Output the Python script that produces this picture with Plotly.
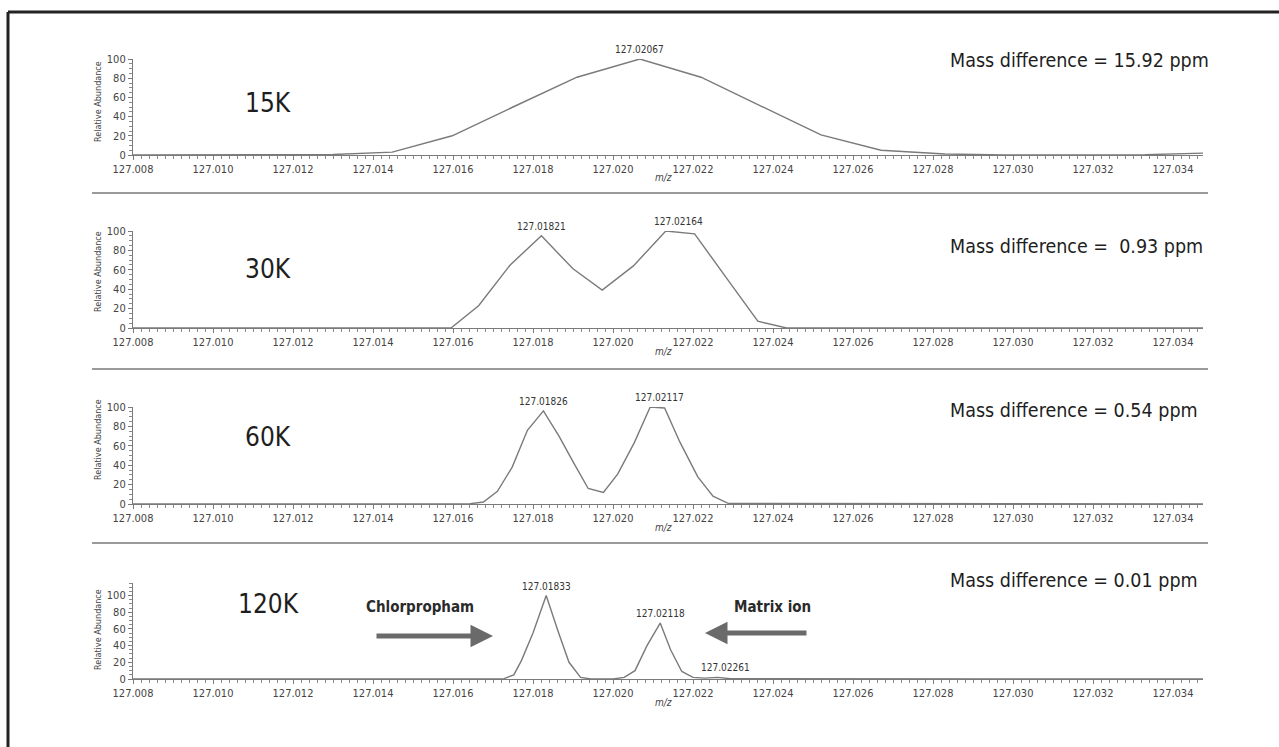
import plotly.graph_objects as go

W, H = 1279, 747

# ---- spectra (m/z, relative abundance) ----
mz_15k = [127.0080, 127.0130, 127.01448, 127.01598, 127.0175, 127.0191, 127.02067,
          127.0222, 127.0237, 127.0252, 127.0267, 127.0283, 127.0298, 127.0333, 127.0348]
ab_15k = [0, 0.5, 3, 20, 50, 81, 100, 81, 51, 21, 5, 1, 0, 0.3, 2]

mz_30k = [127.0080, 127.01595, 127.01664, 127.01743, 127.01821, 127.01900, 127.01973,
          127.02051, 127.02132, 127.02204, 127.02283, 127.02362, 127.02434, 127.0348]
ab_30k = [0, 0, 23, 65, 95, 61, 39, 64, 100, 97, 52, 7, 0, 0]

mz_60k = [127.0080, 127.01610, 127.01643, 127.01676, 127.01711, 127.01748, 127.01786,
          127.01826, 127.01865, 127.01901, 127.01938, 127.01976, 127.02012, 127.02053,
          127.02093, 127.02129, 127.02167, 127.02212, 127.02250, 127.02289, 127.0348]
ab_60k = [0, 0, 0.3, 2, 13, 38, 76, 96, 70, 43, 16, 12, 31, 63, 100, 99, 64, 28, 8, 0.5, 0]

mz_120k = [127.0080, 127.01700, 127.01728, 127.01752, 127.01771, 127.01800, 127.01833,
           127.01862, 127.01890, 127.01919, 127.01945, 127.02000, 127.02028, 127.02055,
           127.02085, 127.02118, 127.02144, 127.02172, 127.02200, 127.02230, 127.02261,
           127.02294, 127.0348]
ab_120k = [0, 0, 0.5, 5, 22, 55, 100, 58, 20, 2, 0, 0, 2, 10, 40, 67, 35, 9, 2, 1, 2, 0.3, 0]

# ---- labelled peaks ----
peaks_15k = [127.02067]
peak_ab_15k = [100]
peaks_30k = [127.01821, 127.02164]
peak_ab_30k = [95, 100]
peaks_60k = [127.01826, 127.02117]
peak_ab_60k = [96, 100]
peaks_120k = [127.01833, 127.02118, 127.02261]
peak_ab_120k = [100, 67, 2]

resolutions = ["15K", "30K", "60K", "120K"]
mass_diffs = ["Mass difference = 15.92 ppm", "Mass difference =  0.93 ppm",
              "Mass difference = 0.54 ppm", "Mass difference = 0.01 ppm"]
y_max = [100, 100, 100, 115]

NARROW = "Liberation Sans Narrow, Arial Narrow, DejaVu Sans Condensed, sans-serif"
LINE = "#7a7a7a"
TEXT = "#333333"


def px(x):
    return x / W


def py(y):
    return 1 - y / H


# pixel rows of each panel: (top of y-axis, baseline)
rows = [(59, 155), (231, 328), (407, 504), (583, 679)]
x_left, x_right = 133, 1203
mz_lo = 127.008
mz_hi = mz_lo + (x_right - x_left) / 80 * 0.002

# text rows inside each panel
ylabel_mid = [102, 272, 440, 630]
res_row = [103, 269, 437, 604]
md_row = [60, 246, 410, 580]

spectra = [(mz_15k, ab_15k), (mz_30k, ab_30k), (mz_60k, ab_60k), (mz_120k, ab_120k)]
peaks = [(peaks_15k, peak_ab_15k), (peaks_30k, peak_ab_30k),
         (peaks_60k, peak_ab_60k), (peaks_120k, peak_ab_120k)]

fig = go.Figure()
annotations = []
layout = {}


def note(x, y, text, size, color=TEXT, **kw):
    d = dict(x=px(x), y=py(y), xref="paper", yref="paper", text=text,
             showarrow=False, xanchor="center", yanchor="middle",
             font=dict(family=NARROW, size=size, color=color))
    d.update(kw)
    annotations.append(d)


for i, ((mz, ab), (top, base)) in enumerate(zip(spectra, rows)):
    n = "" if i == 0 else str(i + 1)
    fig.add_trace(go.Scatter(
        x=mz, y=ab, mode="lines", xaxis="x" + n, yaxis="y" + n,
        line=dict(color=LINE, width=1.4), showlegend=False, hoverinfo="skip"))

    layout["xaxis" + n] = dict(
        domain=[px(x_left), px(x_right)], range=[mz_lo, mz_hi], anchor="y" + n,
        showline=True, linecolor=LINE, linewidth=1.2, ticks="outside", ticklen=4,
        tickcolor=LINE, tick0=127.008, dtick=0.002, tickformat=".3f",
        tickfont=dict(family=NARROW, size=11, color="#444"),
        minor=dict(ticks="outside", ticklen=3, dtick=0.0002, tickcolor="#8a8a8a"),
        showgrid=False, zeroline=False, fixedrange=True, automargin=False)
    layout["yaxis" + n] = dict(
        domain=[py(base), py(top)],
        range=[0, y_max[i]], anchor="x" + n,
        showline=True, linecolor=LINE, linewidth=1.2, ticks="outside", ticklen=4,
        tickcolor=LINE, tick0=0, dtick=20,
        tickfont=dict(family=NARROW, size=11, color="#444"),
        minor=dict(ticks="outside", ticklen=3, dtick=5, tickcolor="#8a8a8a"),
        showgrid=False, zeroline=False, fixedrange=True, automargin=False)

    # axis titles
    note(98, ylabel_mid[i], "Relative Abundance", 9, "#444", textangle=-90)
    note(663, base + 23, "<i>m/z</i>", 10, "#444")
    # resolution label
    note(268, res_row[i], resolutions[i], 26, "#1e1e1e")
    # mass difference
    note(948, md_row[i], mass_diffs[i].replace("  ", "&nbsp; "), 19.5,
         "#1e1e1e", xanchor="left")
    # peak labels
    for pm, pa in zip(*peaks[i]):
        annotations.append(dict(
            x=pm, y=pa, xref="x" + n, yref="y" + n, xanchor="center",
            yanchor="bottom", yshift=2, xshift=8 if pa < 10 else 0,
            text=f"{pm:.5f}", showarrow=False,
            font=dict(family=NARROW, size=10, color=TEXT)))

# compound labels and arrows in the 120K panel
note(420, 607, "<b>Chlorpropham</b>", 15, "#2a2a2a")
note(772, 607, "<b>Matrix ion</b>", 15, "#2a2a2a")
annotations.append(dict(x=px(493), y=py(636), ax=375 - 493, ay=0,
                        xref="paper", yref="paper",
                        text="", showarrow=True, arrowhead=2, arrowsize=0.9,
                        arrowwidth=5, arrowcolor="#6a6a6a"))
annotations.append(dict(x=px(705), y=py(633), ax=808 - 705, ay=0,
                        xref="paper", yref="paper",
                        text="", showarrow=True, arrowhead=2, arrowsize=0.9,
                        arrowwidth=5, arrowcolor="#6a6a6a"))

shapes = []
# separators between panels
for ys in (193, 369, 543):
    shapes.append(dict(type="line", xref="paper", yref="paper",
                       x0=px(92), x1=px(1208), y0=py(ys), y1=py(ys),
                       line=dict(color="#9a9a9a", width=2)))
# outer frame (top and left edges)
shapes.append(dict(type="line", xref="paper", yref="paper",
                   x0=px(8), x1=1.0, y0=py(12), y1=py(12),
                   line=dict(color="#222", width=3)))
shapes.append(dict(type="line", xref="paper", yref="paper",
                   x0=px(8), x1=px(8), y0=py(12), y1=0,
                   line=dict(color="#222", width=3)))

fig.update_layout(
    width=W, height=H, autosize=False, margin=dict(l=0, r=0, t=0, b=0, pad=0),
    paper_bgcolor="white", plot_bgcolor="white",
    annotations=annotations, shapes=shapes, showlegend=False, **layout)

fig.write_html("out.html", config={"displayModeBar": False})
